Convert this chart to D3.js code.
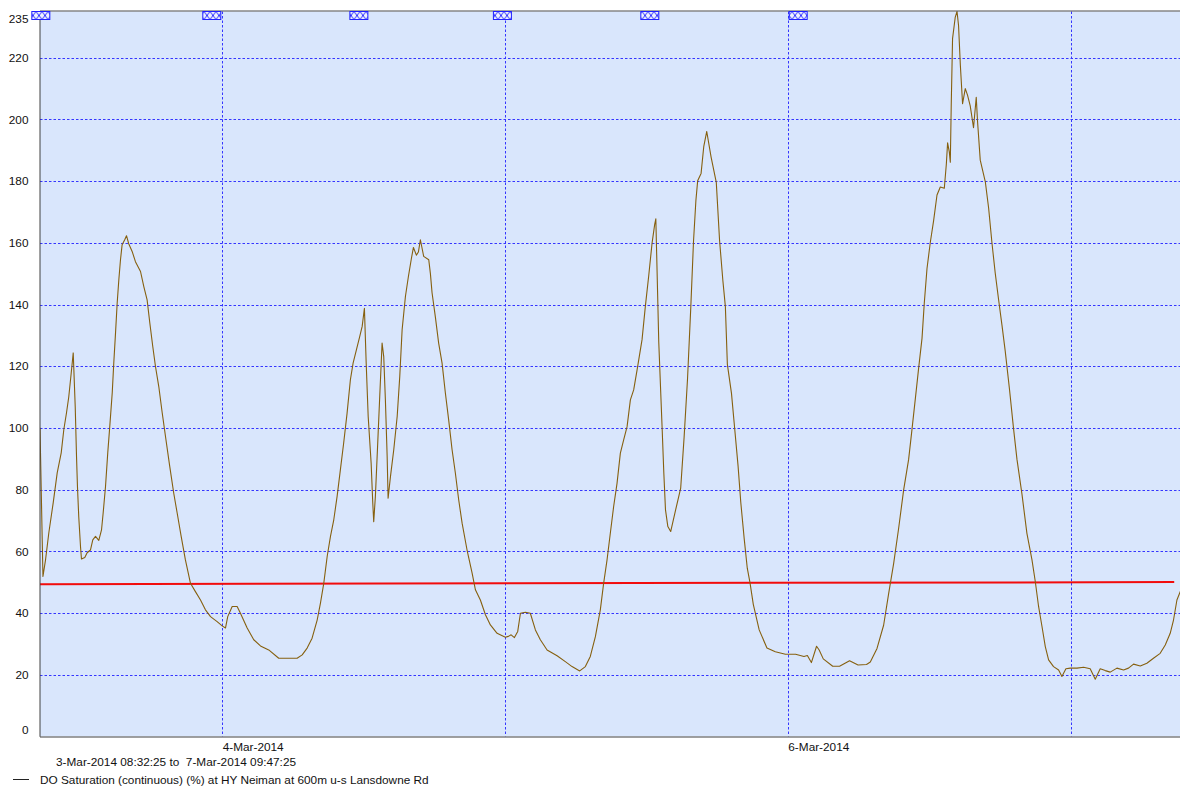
<!DOCTYPE html>
<html>
<head>
<meta charset="utf-8">
<script src="https://cdn.jsdelivr.net/npm/d3@7"></script>
<style>
  html, body { margin: 0; padding: 0; background: #ffffff; }
  svg { display: block; font-family: "Liberation Sans", Arial, sans-serif; }
</style>
</head>
<body>
<svg id="chart" width="1180" height="787"></svg>
<script>
// Record period
const recordStart = "2014-03-03 08:32:25";
const recordEnd = "2014-03-07 09:47:25";

// Observation times, in hours after 3-Mar-2014 00:00
const obsHours = [
  8.54, 8.79, 9.01, 9.29, 9.66, 10.00, 10.34, 10.56, 10.79, 10.98, 11.19, 11.36, 11.53, 11.64, 11.72, 11.83,
  11.98, 12.06, 12.34, 12.54, 12.82, 13.02, 13.25, 13.53, 13.76, 13.90, 14.10, 14.29, 14.46, 14.67, 14.80, 14.95,
  15.09, 15.23, 15.37, 15.51, 15.73, 15.88, 16.07, 16.36, 16.64, 17.07, 17.35, 17.63, 17.86, 18.11, 18.34, 18.62,
  18.91, 19.19, 19.55, 19.89, 20.18, 20.52, 20.88, 21.31, 21.73, 22.16, 22.58, 23.01, 23.57, 24.00, 24.28, 24.47,
  24.85, 25.27, 25.55, 26.12, 26.68, 27.25, 27.95, 28.80, 29.51, 30.36, 30.79, 31.21, 31.63, 32.06, 32.34, 32.62,
  32.91, 33.19, 33.47, 33.75, 34.03, 34.31, 34.60, 34.88, 35.11, 35.39, 35.67, 35.88, 36.07, 36.22, 36.39, 36.64,
  36.78, 36.86, 37.00, 37.20, 37.37, 37.57, 37.71, 37.85, 38.00, 38.08, 38.28, 38.56, 38.85, 39.07, 39.27, 39.55,
  39.80, 40.06, 40.23, 40.48, 40.65, 40.82, 41.10, 41.53, 41.67, 41.81, 42.09, 42.37, 42.66, 42.94, 43.22, 43.51,
  43.79, 44.07, 44.36, 44.78, 45.21, 45.49, 45.91, 46.34, 46.76, 47.33, 48.03, 48.29, 48.52, 48.80, 49.08, 49.31,
  49.73, 50.15, 50.58, 51.00, 51.57, 52.42, 53.12, 53.69, 54.34, 54.82, 55.24, 55.67, 56.09, 56.37, 56.66, 56.94,
  57.22, 57.51, 57.79, 58.07, 58.36, 58.64, 58.92, 59.21, 59.63, 59.91, 60.19, 60.48, 60.70, 60.80, 61.05, 61.34,
  61.48, 61.62, 61.82, 62.06, 62.48, 62.91, 63.20, 63.49, 63.77, 64.00, 64.20, 64.35, 64.64, 64.87, 65.12, 65.49,
  65.93, 66.21, 66.49, 66.70, 66.87, 67.22, 67.50, 67.78, 68.01, 68.30, 68.56, 68.79, 69.07, 69.57, 70.23, 70.94,
  71.80, 72.66, 73.37, 73.66, 74.00, 74.44, 74.66, 75.01, 75.81, 76.39, 77.24, 77.96, 78.68, 79.00, 79.57, 80.13,
  80.55, 80.98, 81.40, 81.83, 82.25, 82.54, 82.82, 83.10, 83.39, 83.58, 83.81, 84.09, 84.37, 84.66, 84.94, 85.28,
  85.45, 85.56, 85.70, 85.79, 85.87, 85.98, 86.21, 86.36, 86.49, 86.64, 86.83, 87.06, 87.25, 87.48, 87.76, 87.99,
  88.10, 88.33, 88.76, 89.04, 89.32, 89.60, 89.88, 90.17, 90.45, 90.82, 91.16, 91.45, 91.87, 92.29, 92.57, 92.72,
  93.00, 93.28, 93.57, 93.85, 94.13, 94.55, 94.98, 95.26, 95.60, 95.97, 96.54, 97.10, 97.66, 98.09, 98.51, 98.94,
  99.36, 99.93, 100.49, 100.91, 101.34, 101.91, 102.47, 103.03, 103.60, 104.03, 104.45, 104.73, 105.02, 105.30, 105.79
];

// DO Saturation (%) at each observation time
const doSaturation = [
  100, 51.8, 57.2, 66, 75.7, 85.4, 91.9, 99.4, 104.9, 110, 117.8, 124.3, 106.8, 90.6, 80.9, 71.1,
  61.4, 57.5, 58, 59.5, 60.4, 63.7, 64.8, 63.5, 66.9, 72.4, 81, 91.9, 100.4, 111.4, 121, 130.8,
  140.5, 148, 154.5, 159.4, 161, 162.3, 159.7, 157.2, 153.9, 150.7, 145.8, 141.5, 134, 126.4, 119.9, 113.4,
  104.9, 97.2, 87.5, 78.8, 72.4, 64.8, 57.2, 49.6, 46.9, 44.2, 41, 38.8, 37.2, 35.8, 35.1, 38.8,
  42.1, 42.1, 39.9, 35.1, 31.3, 29.3, 28, 25.3, 25.3, 25.3, 26.4, 28.6, 31.8, 37.7, 43.2, 49.6,
  58.3, 64.8, 70.2, 77.7, 86.4, 95.1, 104.8, 115.6, 121, 125.3, 129.6, 132.9, 138.8, 121, 103.7, 88.6,
  75.6, 69.6, 77.7, 95.1, 110.2, 127.5, 123.1, 109.1, 90.7, 77.2, 84.2, 92.9, 103.7, 116.7, 131.8, 142.6,
  149, 155, 158.5, 156, 157, 161, 155.6, 154.5, 150, 143.8, 136, 127.5, 121, 111.3, 102.6, 92.9,
  85.3, 76.7, 69.1, 60.4, 52.9, 47.5, 44.2, 39.4, 36.1, 33.4, 32.1, 32.4, 32.9, 32, 34, 39.9,
  40.2, 39.9, 34.5, 31.3, 28, 26.1, 24.2, 22.6, 21.2, 22.6, 25.9, 32.3, 41, 49.6, 57.2, 65.9,
  74.5, 82.1, 91.8, 96.1, 100.4, 109.1, 112.3, 118.8, 128.6, 139.4, 149.1, 159.9, 165.9, 167.8, 127.7, 99.4,
  85.2, 73.4, 68, 66.4, 73.4, 80.5, 97, 115.9, 139.4, 160.7, 173.7, 180.1, 182.5, 191.3, 196.1, 187.8,
  179.6, 160.7, 147.7, 139.4, 120.6, 111.2, 99.4, 87.6, 75.8, 64, 54.5, 49.8, 42.8, 34.5, 28.6, 27.4,
  26.6, 26.6, 25.9, 26.2, 23.9, 29.2, 28, 25.1, 22.7, 22.7, 24.5, 23.1, 23.3, 24.1, 28.5, 36,
  46.1, 56, 67.3, 79.9, 89.7, 99.6, 109.4, 119.3, 129.1, 140.4, 151.6, 160.1, 167.1, 175.5, 178.1, 177.7,
  185.4, 192.4, 189.6, 186.1, 205.1, 226.2, 233.2, 235, 230.4, 217.7, 205.1, 210, 207.9, 204.4, 197.3, 207.2,
  199.4, 186.8, 179.8, 171.3, 160.1, 150.2, 141.8, 133.4, 124.9, 112.2, 99.6, 89.7, 78.5, 65.8, 60.2, 57.2,
  50.2, 42.1, 35.6, 29.1, 24.8, 22.6, 21.5, 19.4, 21.9, 22.1, 22.1, 22.4, 21.9, 18.5, 21.9, 21.3,
  20.8, 22.1, 21.5, 22.1, 23.4, 22.8, 23.7, 25.3, 26.9, 29.6, 33.4, 37.7, 44.2, 46.9, 52
];

// Threshold line (red), endpoints
const thresholdHours = [8.54, 104.79];
const thresholdValues = [49.3, 50.0];

// Comment markers along the top edge (hours after 3-Mar-2014 00:00)
const commentHours = [8.61, 23.12, 35.6, 47.78, 60.29, 72.88];

// Axis ticks and labels
const yTickValues = [0, 20, 40, 60, 80, 100, 120, 140, 160, 180, 200, 220, 235];
const yGridValues = [20, 40, 60, 80, 100, 120, 140, 160, 180, 200, 220];
const dateLabelDays = ["2014-03-04", "2014-03-06"];
const periodText = "3-Mar-2014 08:32:25 to  7-Mar-2014 09:47:25";
const legendText = "DO Saturation (continuous) (%) at HY Neiman at 600m u-s Lansdowne Rd";

// ---------------------------------------------------------------
const svg = d3.select("#chart");
const W = 1180, H = 787;
const plot = { left: 40, right: 1186, top: 11.5, bottom: 736.3 };
const FONT = "11.8px";

const parseFull = d3.timeParse("%Y-%m-%d %H:%M:%S");
const parseDay = d3.timeParse("%Y-%m-%d");
const day0 = parseDay("2014-03-03");
const atHour = h => new Date(day0.getTime() + h * 3600000);

const t0 = parseFull(recordStart);
const t1 = parseFull(recordEnd);

const x = d3.scaleTime().domain([t0, t1]).range([plot.left, plot.right]);
const y = d3.scaleLinear().domain([0, 235]).range([plot.bottom, plot.top]);

const series = obsHours.map((h, i) => ({ t: atHour(h), v: doSaturation[i] }));

// Hatch pattern for comment markers
const defs = svg.append("defs");
const pat = defs.append("pattern")
  .attr("id", "hatch").attr("patternUnits", "userSpaceOnUse")
  .attr("width", 6).attr("height", 8).attr("x", 0).attr("y", plot.top);
pat.append("rect").attr("width", 6).attr("height", 8).attr("fill", "#eef2ff");
pat.append("path").attr("d", "M0,0 L6,8 M6,0 L0,8")
  .attr("stroke", "#2a2aff").attr("stroke-width", 1).attr("fill", "none");

defs.append("clipPath").attr("id", "plotClip")
  .append("rect").attr("x", plot.left).attr("y", plot.top - 1)
  .attr("width", plot.right - plot.left).attr("height", plot.bottom - plot.top + 1);

// Plot background
svg.append("rect")
  .attr("x", plot.left).attr("y", plot.top)
  .attr("width", plot.right - plot.left).attr("height", plot.bottom - plot.top)
  .attr("fill", "#d9e6fc");

// Grid
const grid = svg.append("g").attr("fill", "none");
grid.selectAll("line.h").data(yGridValues).join("line")
  .attr("class", "h")
  .attr("x1", plot.left).attr("x2", plot.right)
  .attr("y1", d => Math.round(y(d)) + 0.5).attr("y2", d => Math.round(y(d)) + 0.5)
  .attr("stroke", "#3535ff").attr("stroke-width", 1).attr("stroke-dasharray", "2.5,2");

const dayLines = d3.timeDay.range(d3.timeDay.ceil(t0), t1);
grid.selectAll("line.v").data(dayLines).join("line")
  .attr("class", "v")
  .attr("x1", d => Math.round(x(d)) + 0.5).attr("x2", d => Math.round(x(d)) + 0.5)
  .attr("y1", plot.top).attr("y2", plot.bottom)
  .attr("stroke", "#3535ff").attr("stroke-width", 1).attr("stroke-dasharray", "2.5,2");

// Threshold
const thr = thresholdHours.map((h, i) => ({ t: atHour(h), v: thresholdValues[i] }));
svg.append("path")
  .datum(thr)
  .attr("d", d3.line().x(d => x(d.t)).y(d => y(d.v)))
  .attr("fill", "none").attr("stroke", "#f20c0c").attr("stroke-width", 2);

// DO saturation trace
svg.append("g").attr("clip-path", "url(#plotClip)")
  .append("path")
  .datum(series)
  .attr("d", d3.line().x(d => x(d.t)).y(d => y(d.v)))
  .attr("fill", "none").attr("stroke", "#86600f").attr("stroke-width", 1.1)
  .attr("stroke-linejoin", "round");

// Frame
svg.append("line").attr("x1", plot.left).attr("x2", W)
  .attr("y1", plot.top - 0.5).attr("y2", plot.top - 0.5)
  .attr("stroke", "#4a4a4a").attr("stroke-width", 1);

// Y axis
const yAxis = d3.axisLeft(y).tickValues(yTickValues).tickSize(0).tickPadding(11)
  .tickFormat(d3.format("d"));
const gy = svg.append("g").attr("transform", `translate(${plot.left - 0.5},0)`).call(yAxis);
gy.select(".domain").attr("stroke", "#404040");
gy.selectAll(".tick text")
  .attr("font-size", FONT).attr("fill", "#111")
  .attr("font-family", "'Liberation Sans', Arial, sans-serif")
  .attr("dy", d => d === 0 ? "-0.28em" : d === 235 ? "0.92em" : "0.32em");

// X axis
const xAxis = d3.axisBottom(x)
  .tickValues(dateLabelDays.map(parseDay))
  .tickSize(0).tickPadding(6)
  .tickFormat(d3.timeFormat("%-d-%b-%Y"));
const gx = svg.append("g").attr("transform", `translate(0,${plot.bottom + 0.2})`).call(xAxis);
gx.select(".domain").attr("stroke", "#404040").attr("d", `M${plot.left},0.5H${plot.right}`);
gx.selectAll(".tick text")
  .attr("text-anchor", "start").attr("font-size", FONT).attr("fill", "#111")
  .attr("font-family", "'Liberation Sans', Arial, sans-serif");

// Comment markers
svg.append("g").selectAll("rect").data(commentHours).join("rect")
  .attr("x", d => x(atHour(d)) - 9).attr("y", plot.top)
  .attr("width", 18).attr("height", 8)
  .attr("fill", "url(#hatch)").attr("stroke", "#2020ff").attr("stroke-width", 1);

// Period text
svg.append("text")
  .attr("x", 56).attr("y", 765.5)
  .attr("font-size", FONT).attr("fill", "#111")
  .style("white-space", "pre")
  .text(periodText);

// Legend
svg.append("line").attr("x1", 13).attr("x2", 29).attr("y1", 779.5).attr("y2", 779.5)
  .attr("stroke", "#222").attr("stroke-width", 1);
svg.append("text")
  .attr("x", 40).attr("y", 783.5)
  .attr("font-size", FONT).attr("fill", "#111")
  .text(legendText);
</script>
</body>
</html>
